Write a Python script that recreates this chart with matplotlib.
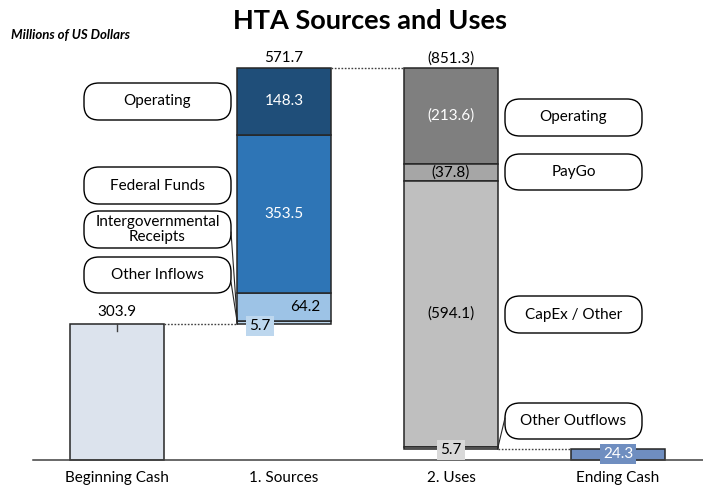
import matplotlib
matplotlib.use("Agg")
import matplotlib.pyplot as plt
from matplotlib.patches import FancyBboxPatch, ConnectionPatch
from matplotlib.transforms import Affine2D

# ---------------- data ----------------
categories = ["Beginning Cash", "1. Sources", "2. Uses", "Ending Cash"]
beginning_cash = 303.9
source_labels = ["Other Inflows", "Intergovernmental\nReceipts", "Federal Funds", "Operating"]  # bottom -> top
source_values = [5.7, 64.2, 353.5, 148.3]
sources_total = 571.7
use_labels = ["Operating", "PayGo", "CapEx / Other", "Other Outflows"]  # top -> bottom
use_values = [213.6, 37.8, 594.1, 5.7]
uses_total = 851.3
ending_cash = 24.3

# ---------------- style ----------------
plt.rcParams['font.family'] = ['Lato', 'DejaVu Sans']
W, H = 703, 492
fig = plt.figure(figsize=(W / 100, H / 100), dpi=100)
ax = fig.add_axes([0, 0, 1, 1])
ax.set_xlim(-0.7006, 3.509)
ax.set_ylim(-71.5, 1027.9)
ax.axis('off')

# pixel transform (origin top-left)
PX = Affine2D().scale(0.01, -0.01).translate(0, H / 100) + fig.dpi_scale_trans
PT = 0.72  # points per pixel

edge = '#262626'
bw = 0.557
fs = 11

src_colors = ['#BDD7EE', '#9DC3E6', '#2E75B6', '#1F4E79']
use_colors = ['#7F7F7F', '#A6A6A6', '#BFBFBF', '#D9D9D9']
beg_color = '#DCE3ED'
end_color = '#6F8EC0'

# Beginning cash
ax.bar(0, beginning_cash, width=bw, color=beg_color, edgecolor=edge, lw=1.1)

# Sources stack
src_bottoms = []
b = beginning_cash
for v, c in zip(source_values, src_colors):
    ax.bar(1, v, bottom=b, width=bw, color=c, edgecolor=edge, lw=1.1)
    src_bottoms.append(b)
    b += v
src_top = b

# Uses stack (top -> bottom)
use_bottoms = []
t = src_top
for v, c in zip(use_values, use_colors):
    ax.bar(2, v, bottom=t - v, width=bw, color=c, edgecolor=edge, lw=1.1)
    use_bottoms.append(t - v)
    t -= v
use_bottom = t

# Ending cash
ax.bar(3, ending_cash, width=bw, color=end_color, edgecolor=edge, lw=1.1)

# baseline
ax.axhline(0, xmin=33 / W, xmax=1, color='#404040', lw=1.1)

# dotted connectors
dot = dict(color='#404040', lw=1, ls=(0, (1.2, 1.2)))
ax.plot([0 + bw / 2, 1 - bw / 2], [beginning_cash] * 2, **dot)
ax.plot([1 + bw / 2, 2 - bw / 2], [src_top] * 2, **dot)
ax.plot([2 + bw / 2, 3 - bw / 2], [use_bottom] * 2, **dot)


def lab(text, x, y, dx=0, dy=0, color='black', ha='center', bg=None, pad=0.15):
    kw = {}
    if bg is not None:
        kw['bbox'] = dict(boxstyle=f'square,pad={pad}', fc=bg, ec='none')
    ax.annotate(text, (x, y), xytext=(dx * PT, dy * PT), textcoords='offset points',
                ha=ha, va='center', fontsize=fs, color=color, **kw)


# category labels
for i, c in enumerate(categories):
    lab(c, i, 0, dy=-18)

# totals
lab(f"{beginning_cash:.1f}", 0, beginning_cash, dy=12)
ax.plot([0, 0], [beginning_cash + 1, beginning_cash - 16], color='#404040', lw=1)
lab(f"{sources_total:.1f}", 1, src_top, dy=10)
lab(f"({uses_total:.1f})", 2, src_top, dy=10)

# sources segment labels
lab(f"{source_values[3]:.1f}", 1, src_bottoms[3] + source_values[3] / 2, color='white')
lab(f"{source_values[2]:.1f}", 1, src_bottoms[2] + source_values[2] / 2, color='white')
lab(f"{source_values[1]:.1f}", 1 + bw / 2, src_bottoms[1] + source_values[1] / 2, dx=-10, ha='right')
lab(f"{source_values[0]:.1f}", 1, src_bottoms[0], dx=-24, dy=-2, bg='#BDD7EE', pad=0.2)

# uses segment labels
lab(f"({use_values[0]:.1f})", 2, use_bottoms[0] + use_values[0] / 2, color='white')
lab(f"({use_values[1]:.1f})", 2, use_bottoms[1] + use_values[1] / 2)
lab(f"({use_values[2]:.1f})", 2, use_bottoms[2] + use_values[2] / 2)
lab(f"{use_values[3]:.1f}", 2, use_bottom, dy=-1, bg='#D9D9D9', pad=0.2)

# ending cash label
lab(f"{ending_cash:.1f}", 3, ending_cash / 2, dy=1, color='white', bg=end_color, pad=0.2)


# rounded callout boxes (pixel coordinates)
def callout(text, x0, y0, x1, y1):
    p = FancyBboxPatch((x0, y0), x1 - x0, y1 - y0,
                       boxstyle='round,pad=0,rounding_size=15',
                       transform=PX, fc='white', ec='black', lw=1.0)
    ax.add_patch(p)
    ax.text((x0 + x1) / 2, (y0 + y1) / 2, text, transform=PX, ha='center', va='center',
            fontsize=fs, linespacing=1.15)


callout(source_labels[3], 84, 83, 231, 120)
callout(source_labels[2], 84, 167, 231, 204)
callout(source_labels[1], 84, 211, 231, 248)
callout(source_labels[0], 84, 257, 231, 293)
callout(use_labels[0], 505, 99, 642, 136)
callout(use_labels[1], 505, 154, 642, 190)
callout(use_labels[2], 505, 296, 642, 333)
callout(use_labels[3], 505, 403, 642, 439)

# leader lines
for (xa, ya), target in [((231, 232), (1 - bw / 2, src_bottoms[0])),
                         ((231, 282), (1 - bw / 2, src_bottoms[0])),
                         ((505, 418), (2 + bw / 2, use_bottom))]:
    cp = ConnectionPatch(xyA=(xa, ya), coordsA=PX, xyB=target, coordsB=ax.transData,
                         color='#262626', lw=0.8)
    ax.add_artist(cp)

# titles
fig.text(370 / W, 1 - 21 / H, "HTA Sources and Uses", ha='center', va='center',
         fontsize=19.5, fontweight='bold')
fig.text(11 / W, 1 - 35 / H, "Millions of US Dollars", ha='left', va='center',
         fontsize=9.5, fontweight='bold', fontstyle='italic')

fig.savefig("out.png", dpi=100)
